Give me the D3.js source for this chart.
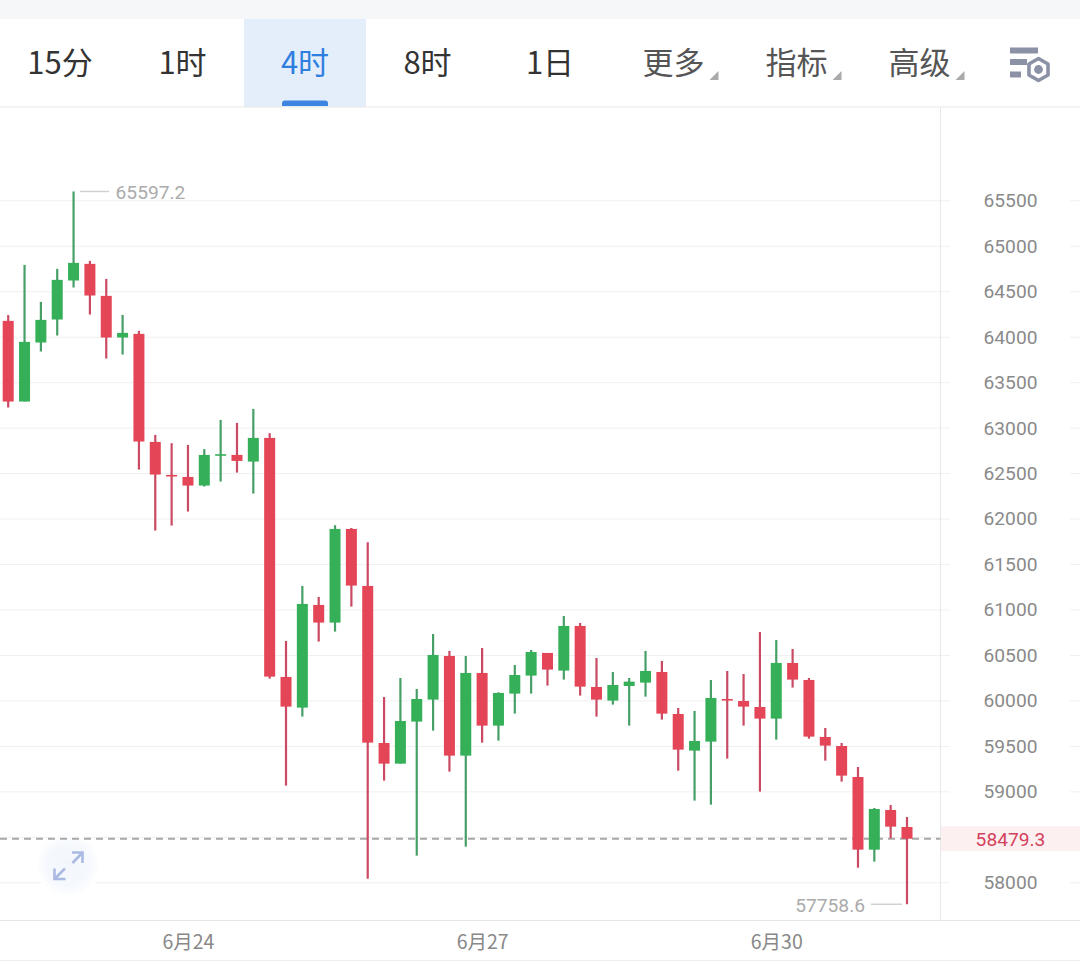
<!DOCTYPE html>
<html>
<head>
<meta charset="utf-8">
<script src="https://cdn.jsdelivr.net/npm/d3@7"></script>
<style>
html,body{margin:0;padding:0;background:#fff;overflow:hidden}
svg{display:block}
text{font-family:"Noto Sans CJK SC","Noto Sans",sans-serif}
.num{font-family:Roboto,"Noto Sans",sans-serif}
</style>
</head>
<body>
<svg id="chart" width="1080" height="963"></svg>
<script>
// 4-hour candles, oldest first
const opens = [64174,63287,63936,64189,64618,64801,64449,63991,64031,62843,62480,62458,62363,62693,62700,62627,
  62887,60258,59921,61050,60856,61886,61259,59532,59305,59767,60009,60489,59393,60302,59723,60075,60273,60522,
  60328,60819,60148,59998,60159,60196,60313,59851,59448,59547,60016,59994,59928,59800,60412,60225,59598,59499,
  59158,58359,58795,58608];
const closes = [63287,63943,64185,64625,64812,64453,63991,64042,62847,62484,62466,62363,62700,62708,62634,62887,
  60262,59932,61061,60856,61886,61263,59536,59305,59774,60016,60500,59393,60302,59723,60082,60280,60533,60339,
  60819,60152,60009,60170,60207,60324,59855,59459,59554,60027,60002,59932,59800,60412,60229,59602,59503,59173,
  58359,58806,58612,58479.3];
const highs = [64237,64790,64383,64746,65597.2,64834,64636,64240,64064,62920,62829,62810,62763,63085,63052,63206,
  62939,60654,61259,61138,61927,61897,61740,60038,60247,60126,60731,60544,60489,60577,60090,60390,60555,60522,
  60929,60852,60467,60313,60247,60544,60434,59917,59884,60225,60324,60291,60753,60665,60566,60247,59697,59532,
  59268,58817,58850,58718];
const lows = [63221,63287,63837,64013,64541,64244,63760,63804,62539,61868,61923,62077,62352,62407,62506,62275,
  60240,59063,59822,60647,60757,61032,58040,59118,59305,58293,59668,59217,58392,59536,59558,59855,60075,60163,
  60229,60053,59822,59954,59723,60042,59789,59228,58898,58854,59360,59723,58997,59569,60141,59580,59338,59107,
  58161,58227,58484,57758.6];

const priceTicks = d3.range(58000, 65501, 500);
const dateTicks = [11, 29, 47];
const dateLabels = ["6月24", "6月27", "6月30"];
const lastPrice = 58479.3;
const maxPrice = 65597.2;
const minPrice = 57758.6;
const maxIndex = 4;
const minIndex = 55;

const tabs = ["15分", "1时", "4时", "8时", "1日"];
const menus = ["更多", "指标", "高级"];
const activeTab = "4时";

const RED = "#e44557", GREEN = "#35b059";
const RED_WICK = "#c94a62", GREEN_WICK = "#469f66";
const LABEL_SIZE = 19.2;

const svg = d3.select("#chart");
const x = d3.scaleLinear().domain([0, 55]).range([8.2, 907]);
const y = d3.scaleLinear().domain([58000, 65500]).range([882.3, 200.3]);
const axisX = 940.5, axisTop = 107, axisBottom = 920.5;

// Soft halo behind the fullscreen toggle
const halo = svg.append("defs").append("radialGradient").attr("id", "halo");
halo.append("stop").attr("offset", "0%").attr("stop-color", "#f3f7fd");
halo.append("stop").attr("offset", "65%").attr("stop-color", "#f5f8fd");
halo.append("stop").attr("offset", "100%").attr("stop-color", "#ffffff");

// Toolbar
svg.append("rect").attr("width", 1080).attr("height", 19).attr("fill", "#f6f7f9");
const tabCenter = d3.scalePoint().domain(tabs).range([60, 550]);
svg.append("rect").attr("x", 244).attr("y", 19).attr("width", 122).attr("height", 88).attr("fill", "#e4eefb");
svg.append("path").attr("d", "M282 106v-2.5a3 3 0 0 1 3-3h40a3 3 0 0 1 3 3v2.5z").attr("fill", "#3d85e0");
svg.append("g").selectAll("text").data(tabs).join("text")
  .attr("x", d => tabCenter(d)).attr("y", 74).attr("text-anchor", "middle")
  .attr("font-size", 31).attr("fill", d => d === activeTab ? "#2f7fe0" : "#333")
  .text(d => d);

const menuCenter = d3.scalePoint().domain(menus).range([673.5, 919.5]);
const menuG = svg.append("g").selectAll("g").data(menus).join("g")
  .attr("transform", d => `translate(${menuCenter(d)},0)`);
menuG.append("text").attr("y", 74).attr("text-anchor", "middle")
  .attr("font-size", 31).attr("fill", "#555").text(d => d);
menuG.append("path").attr("d", "M45 71v9h-9z").attr("fill", "#aaa");

// Toolbar settings icon
const icon = svg.append("g").attr("fill", "#8b92a6");
icon.append("rect").attr("x", 1010).attr("y", 47.5).attr("width", 28).attr("height", 6);
icon.append("rect").attr("x", 1010).attr("y", 59).attr("width", 17).attr("height", 6);
icon.append("rect").attr("x", 1010).attr("y", 71.5).attr("width", 11).attr("height", 6);
const hexPts = d3.range(6).map(i => {
  const a = Math.PI / 3 * i + Math.PI / 6;
  return [1038.5 + 11 * Math.cos(a), 69.5 + 11 * Math.sin(a)];
});
icon.append("polygon").attr("points", hexPts.join(" ")).attr("fill", "none")
  .attr("stroke", "#8b92a6").attr("stroke-width", 3.6).attr("stroke-linejoin", "round");
icon.append("circle").attr("cx", 1038.5).attr("cy", 69.5).attr("r", 4.4);

// Panel frame
svg.append("line").attr("x1", 0).attr("x2", 1080).attr("y1", 107).attr("y2", 107).attr("stroke", "#e8e8e8").attr("stroke-width", 1.2);

// Grid and price axis: the long tick lines double as grid lines
const yAxis = d3.axisRight(y).tickValues(priceTicks).tickSize(1080).tickPadding(0).tickFormat(d3.format("d"));
const yG = svg.append("g").call(yAxis);
yG.select(".domain").remove();
yG.selectAll(".tick line").attr("stroke", "#f0f0f2").attr("stroke-width", 1);
yG.selectAll(".tick text").remove();

svg.append("rect").attr("x", 950).attr("y", 150).attr("width", 120).attr("height", 760).attr("fill", "#fff");
svg.append("rect").attr("x", 941).attr("y", y(lastPrice) - 12.5).attr("width", 139).attr("height", 25).attr("fill", "#fdf0f1");

// Labels give way to the last-price tag when they would collide with it
const visibleTicks = priceTicks.filter(t => Math.abs(y(t) - y(lastPrice)) > 18);
svg.append("g").selectAll("text").data(visibleTicks).join("text")
  .attr("class", "num").attr("x", 1010.5).attr("y", d => y(d)).attr("dy", "0.36em")
  .attr("text-anchor", "middle").attr("font-size", LABEL_SIZE).attr("fill", "#8a8a8a")
  .text(d3.format("d"));

svg.append("line").attr("x1", axisX).attr("x2", axisX).attr("y1", axisTop).attr("y2", axisBottom).attr("stroke", "#e8e8ea");
svg.append("line").attr("x1", 0).attr("x2", 1080).attr("y1", axisBottom).attr("y2", axisBottom).attr("stroke", "#e6e6e8");
svg.append("line").attr("x1", 0).attr("x2", 1080).attr("y1", 960.5).attr("y2", 960.5).attr("stroke", "#eeeeee");

// Date axis
const xAxis = d3.axisBottom(x).tickValues(dateTicks).tickSize(0).tickPadding(0)
  .tickFormat((d, i) => dateLabels[i]);
const xG = svg.append("g").attr("transform", `translate(0,${axisBottom})`).call(xAxis);
xG.select(".domain").remove();
xG.selectAll(".tick text").attr("y", 28).attr("dy", 0).attr("font-size", 19.5)
  .attr("font-family", '"Noto Sans CJK SC",sans-serif').attr("fill", "#888");

// Fullscreen toggle behind the candles
svg.append("circle").attr("cx", 68).attr("cy", 865).attr("r", 32).attr("fill", "url(#halo)");
svg.append("path")
  .attr("d", "M72 852.5H82.5V863M82.5 852.5L72.5 863M54.5 868.5V879H65.5M54.5 879L65 868.5")
  .attr("fill", "none").attr("stroke", "#aabae3").attr("stroke-width", 2.6);

// Last-price line
svg.append("line").attr("x1", 0).attr("x2", axisX).attr("y1", y(lastPrice)).attr("y2", y(lastPrice))
  .attr("stroke", "#a8a8a8").attr("stroke-width", 1.9).attr("stroke-dasharray", "7 5");
svg.append("text").attr("class", "num").attr("x", 1010.5).attr("y", y(lastPrice)).attr("dy", "0.36em")
  .attr("text-anchor", "middle").attr("font-size", LABEL_SIZE).attr("fill", "#d4415c").text(lastPrice.toFixed(1));

// Candles
const candles = svg.append("g").selectAll("g").data(d3.range(opens.length)).join("g");
const isUp = i => closes[i] >= opens[i];
candles.append("line")
  .attr("x1", i => x(i)).attr("x2", i => x(i))
  .attr("y1", i => y(highs[i])).attr("y2", i => y(lows[i]))
  .attr("stroke", i => isUp(i) ? GREEN_WICK : RED_WICK).attr("stroke-width", 2.2);
candles.append("rect")
  .attr("x", i => x(i) - 5.5).attr("width", 11)
  .attr("y", i => y(Math.max(opens[i], closes[i])))
  .attr("height", i => Math.max(1.6, Math.abs(y(opens[i]) - y(closes[i]))))
  .attr("fill", i => isUp(i) ? GREEN : RED);

// Extreme price markers
const markG = svg.append("g");
markG.append("line").attr("x1", x(maxIndex) + 6.5).attr("x2", x(maxIndex) + 35.5)
  .attr("y1", y(maxPrice)).attr("y2", y(maxPrice)).attr("stroke", "#cfcfcf").attr("stroke-width", 1.4);
markG.append("text").attr("class", "num").attr("x", x(maxIndex) + 42).attr("y", y(maxPrice) + 1).attr("dy", "0.36em")
  .attr("font-size", LABEL_SIZE).attr("fill", "#ababab").text(maxPrice.toFixed(1));
markG.append("line").attr("x1", x(minIndex) - 36).attr("x2", x(minIndex) - 5)
  .attr("y1", y(minPrice)).attr("y2", y(minPrice)).attr("stroke", "#cfcfcf").attr("stroke-width", 1.4);
markG.append("text").attr("class", "num").attr("x", x(minIndex) - 42).attr("y", y(minPrice) + 1).attr("dy", "0.36em")
  .attr("text-anchor", "end").attr("font-size", LABEL_SIZE).attr("fill", "#ababab").text(minPrice.toFixed(1));
</script>
</body>
</html>
